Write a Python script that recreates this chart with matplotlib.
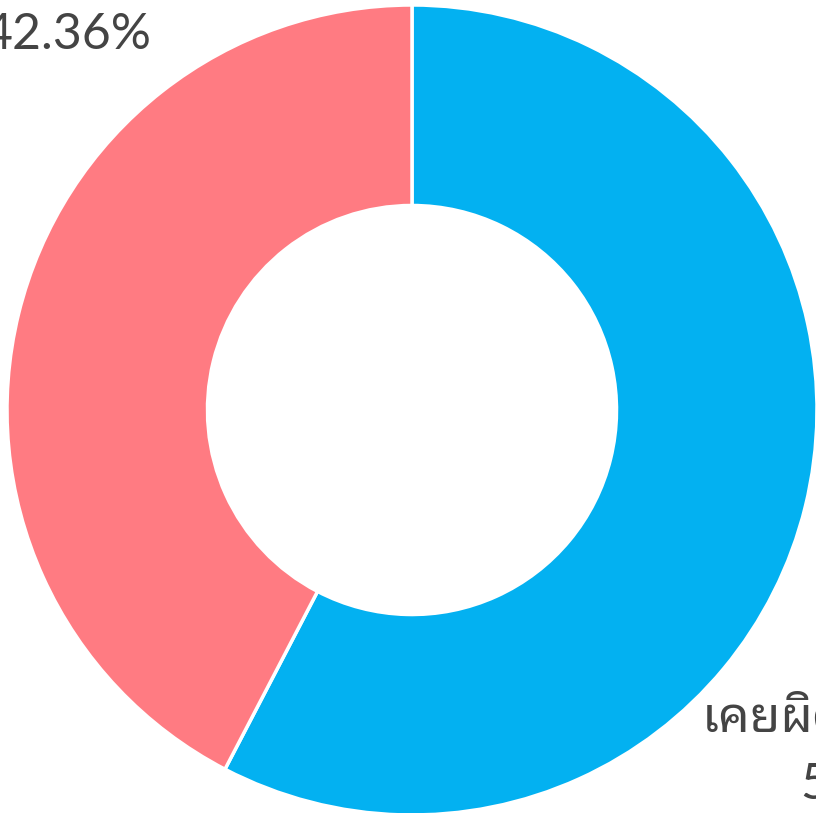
import matplotlib
matplotlib.use("Agg")
import matplotlib.pyplot as plt

labels = ["เคยผิดนัดชำระหนี้", "ไม่เคยผิดนัดชำระหนี้"]
values = [57.64, 42.36]
colors = ["#03B1F1", "#FF7B82"]

plt.rcParams['font.family'] = ['Lato', 'Noto Sans Thai Looped', 'DejaVu Sans']

fig = plt.figure(figsize=(8.16, 8.13), dpi=100)
W, H = 816, 813
cx, cy, r = 412, 410, 405
ax = fig.add_axes([(cx - r) / W, (H - cy - r) / H, 2 * r / W, 2 * r / H])

ax.pie(values, colors=colors, startangle=90, counterclock=False, radius=1.0,
       wedgeprops=dict(width=0.495, edgecolor='white', linewidth=2.5))
ax.set_xlim(-1, 1)
ax.set_ylim(-1, 1)
ax.set_aspect('equal')
ax.axis('off')

# labels (positions in data units)
label_pos = [(1.165, -0.76), (-0.85, 1.09)]
for (x, y), lab, v in zip(label_pos, labels, values):
    ax.text(x, y, lab, ha='center', va='center', fontsize=36, color='#444444',
            clip_on=False)
    ax.text(x, y - 0.165, f"{v:.2f}%", ha='center', va='center', fontsize=36,
            color='#444444', clip_on=False)

fig.savefig("out.png", dpi=100)
